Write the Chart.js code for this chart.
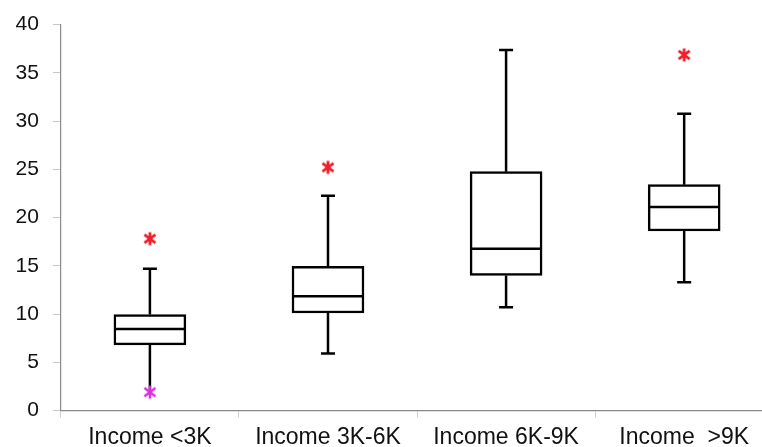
<!DOCTYPE html>
<html>
<head>
<meta charset="utf-8">
<title>Box plot by income group</title>
<script src="https://cdn.jsdelivr.net/npm/chart.js@4.4.1/dist/chart.umd.min.js"></script>
<style>
  html, body { margin: 0; padding: 0; background: #ffffff; overflow: hidden; }
  #wrap { width: 762px; height: 447px; }
</style>
</head>
<body>
<div id="wrap"><canvas id="chart" width="762" height="447"></canvas></div>
<script>
// Income groups on the horizontal axis
const categories = ['Income <3K', 'Income 3K-6K', 'Income 6K-9K', 'Income  >9K'];

// Five-number summaries per group
const whiskerLow  = [1.9, 5.9, 10.7, 13.3];
const quartile1   = [6.8, 10.1, 14.0, 18.6];
const medians     = [8.45, 11.85, 16.75, 21.1];
const quartile3   = [9.95, 14.95, 24.75, 23.4];
const whiskerHigh = [14.7, 22.25, 37.35, 30.75];

// Extreme observations shown as asterisks
const outliers    = [17.8, 25.2, null, 36.85];
const minMarkers  = [1.9, null, null, null];

// Value axis ticks
const yTicks = [0, 5, 10, 15, 20, 25, 30, 35, 40];

const INK = '#000000';
const RED = '#f0202c';
const MAGENTA = '#dd33dd';

// Six-armed asterisk used as a point marker
function asterisk(color, size, lw) {
  const c = document.createElement('canvas');
  c.width = size; c.height = size;
  const g = c.getContext('2d');
  const h = size / 2, r = size / 2 - 1.5;
  g.strokeStyle = color;
  g.lineWidth = lw;
  g.lineCap = 'butt';
  g.beginPath();
  g.moveTo(h, h - r); g.lineTo(h, h + r);
  const d = r * 0.85;
  g.moveTo(h - d, h - d * 0.75); g.lineTo(h + d, h + d * 0.75);
  g.moveTo(h - d, h + d * 0.75); g.lineTo(h + d, h - d * 0.75);
  g.stroke();
  return c;
}

const pos = i => i + 1;

const boxData = categories.map((_, i) => ({ x: pos(i), y: [quartile1[i], quartile3[i]] }));
const medianData = categories.map((_, i) => ({ x: pos(i), y: medians[i] }));

const whiskerData = [];
categories.forEach((_, i) => {
  whiskerData.push({ x: pos(i), y: quartile3[i] }, { x: pos(i), y: whiskerHigh[i] }, { x: pos(i), y: null });
  whiskerData.push({ x: pos(i), y: quartile1[i] }, { x: pos(i), y: whiskerLow[i] }, { x: pos(i), y: null });
});

const capData = [];
categories.forEach((_, i) => {
  capData.push({ x: pos(i), y: whiskerHigh[i], hide: false });
  capData.push({ x: pos(i), y: whiskerLow[i], hide: minMarkers[i] !== null });
});

const outlierData = categories.map((_, i) => ({ x: pos(i), y: outliers[i] })).filter(p => p.y !== null);
const minData = categories.map((_, i) => ({ x: pos(i), y: minMarkers[i] })).filter(p => p.y !== null);

const fontFamily = '"Liberation Sans", Arial, Helvetica, sans-serif';

// Keep the plot area edge-to-edge: tick labels may overhang it
const noEdgePadding = axis => {
  axis.paddingLeft = 0; axis.paddingRight = 0;
  axis.paddingTop = 0; axis.paddingBottom = 0;
};

new Chart(document.getElementById('chart'), {
  data: {
    datasets: [
      {
        type: 'line',
        data: whiskerData,
        borderColor: INK,
        borderWidth: 2.5,
        pointRadius: 0,
        spanGaps: false,
        order: 5
      },
      {
        type: 'bar',
        data: boxData,
        backgroundColor: '#ffffff',
        borderColor: INK,
        borderWidth: 2.5,
        borderSkipped: false,
        barThickness: 72,
        order: 4
      },
      {
        type: 'scatter',
        data: medianData,
        pointStyle: 'line',
        pointRadius: 35,
        borderColor: INK,
        pointBorderWidth: 2.5,
        order: 3
      },
      {
        type: 'scatter',
        data: capData,
        pointStyle: 'line',
        pointRadius: ctx => (ctx.raw && ctx.raw.hide ? 0 : 7),
        borderColor: INK,
        pointBorderWidth: 2.5,
        order: 3
      },
      {
        type: 'scatter',
        data: outlierData,
        pointStyle: asterisk(RED, 16, 2.8),
        order: 1
      },
      {
        type: 'scatter',
        data: minData,
        pointStyle: asterisk(MAGENTA, 16, 2.5),
        order: 0
      }
    ]
  },
  options: {
    responsive: false,
    animation: false,
    events: [],
    layout: { autoPadding: false, padding: { left: 1.5, top: 24.5, right: 0, bottom: -10.5 } },
    plugins: { legend: { display: false }, tooltip: { enabled: false } },
    scales: {
      x: {
        type: 'linear',
        offset: false,
        bounds: 'data',
        min: 0.5,
        max: 4.437,
        afterBuildTicks: axis => { axis.ticks = categories.map((_, i) => ({ value: pos(i) })); },
        afterFit: noEdgePadding,
        ticks: {
          callback: v => categories[Math.round(v) - 1],
          color: '#111111',
          font: { family: fontFamily, size: 23, lineHeight: 1.0 },
          padding: 8.5,
          maxRotation: 0,
          autoSkip: false
        },
        grid: {
          offset: true,
          drawOnChartArea: false,
          drawTicks: true,
          tickLength: 7,
          tickColor: '#cfcfcf'
        },
        border: { display: true, color: '#8a8a8a', width: 1.2 }
      },
      y: {
        type: 'linear',
        min: 0,
        max: 40,
        afterBuildTicks: axis => { axis.ticks = yTicks.map(v => ({ value: v })); },
        afterFit: noEdgePadding,
        ticks: {
          color: '#111111',
          font: { family: fontFamily, size: 21 },
          padding: 14
        },
        grid: {
          drawOnChartArea: false,
          drawTicks: true,
          tickLength: 8,
          tickColor: '#c8c8c8'
        },
        border: { display: true, color: '#8a8a8a', width: 1.2 }
      }
    }
  }
});
</script>
</body>
</html>
